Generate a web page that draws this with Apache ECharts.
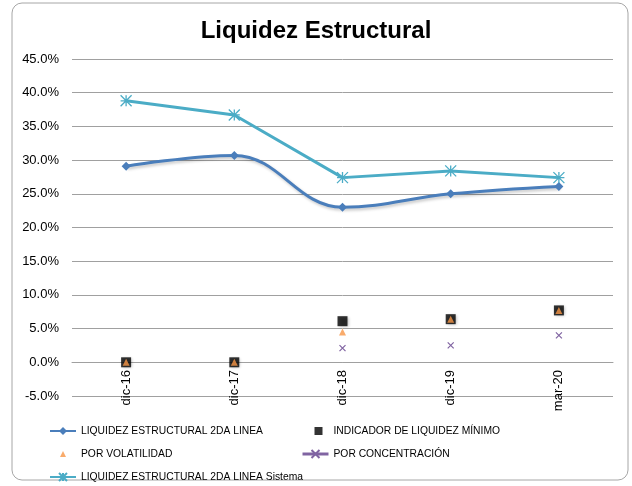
<!DOCTYPE html>
<html>
<head>
<meta charset="utf-8">
<script src="https://cdn.jsdelivr.net/npm/echarts@6/dist/echarts.min.js"></script>
<style>
  html, body { margin: 0; padding: 0; background: #fff; }
  #chart { width: 632px; height: 486px; }
</style>
</head>
<body>
<div id="chart"></div>
<script>
// categorías y valores (en %)
const categories = ['dic-16', 'dic-17', 'dic-18', 'dic-19', 'mar-20'];
const liquidez2da = [29.1, 30.7, 23.0, 25.0, 26.1];
const indicadorMinimo = [0, 0, 6.1, 6.4, 7.7];
const porVolatilidad = [0, 0, 4.5, 6.4, 7.7];
const porConcentracion = [null, null, 2.1, 2.5, 4.0];
const liquidezSistema = [38.8, 36.7, 27.4, 28.4, 27.4];

const FONT = 'Liberation Sans';
const asterisk = 'path://M0,0L10,10M10,0L0,10M5,0L5,10M0,5L10,5';
const xMark = 'path://M0,0L10,10M10,0L0,10';
// iconos de leyenda con caja 26x10 para que no se deformen
const legendTriangle = 'path://M0,0M26,10M10,8L16,8L13,2Z';
const legendSquare = 'path://M0,0M26,10M12,1L20,1L20,9L12,9Z';

const chart = echarts.init(document.getElementById('chart'));

const legendText = { fontFamily: FONT, fontSize: 10.3, color: '#000', lineHeight: 12 };

chart.setOption({
  animation: false,
  title: {
    text: 'Liquidez Estructural',
    left: 'center',
    top: 14,
    textStyle: { fontFamily: FONT, fontSize: 24, fontWeight: 'bold', color: '#000' }
  },
  graphic: [{
    type: 'rect',
    shape: { x: 12, y: 3, width: 616, height: 477, r: 10 },
    style: { fill: 'none', stroke: '#a6a6a6', lineWidth: 1 },
    silent: true
  }],
  grid: { left: 72, right: 19, top: 59, bottom: 90 },
  legend: [{
    orient: 'vertical',
    left: 49,
    top: 425,
    padding: 0,
    itemWidth: 26,
    itemHeight: 10,
    itemGap: 11,
    textStyle: legendText,
    data: [
      'LIQUIDEZ ESTRUCTURAL 2DA LINEA',
      { name: 'POR VOLATILIDAD', icon: legendTriangle },
      'LIQUIDEZ ESTRUCTURAL 2DA LINEA Sistema'
    ]
  }, {
    orient: 'vertical',
    left: 301,
    top: 425,
    padding: 0,
    itemWidth: 26,
    itemHeight: 10,
    itemGap: 11,
    textStyle: legendText,
    data: [
      { name: 'INDICADOR DE LIQUIDEZ MÍNIMO', icon: legendSquare },
      { name: 'POR CONCENTRACIÓN', lineStyle: { width: 3, color: '#8064A2', opacity: 1 } }
    ]
  }],
  xAxis: {
    type: 'category',
    data: categories,
    axisLine: { onZero: true, lineStyle: { color: '#a0a0a0' } },
    axisTick: { show: false },
    axisLabel: { rotate: 90, margin: -26, fontFamily: FONT, fontSize: 13, color: '#000' }
  },
  yAxis: {
    type: 'value',
    min: -5,
    max: 45,
    interval: 5,
    axisLine: { show: false },
    axisTick: { show: false },
    axisLabel: {
      margin: 13,
      fontFamily: FONT,
      fontSize: 13,
      color: '#000',
      formatter: v => v.toFixed(1) + '%'
    },
    splitLine: { lineStyle: { color: '#a0a0a0', width: 1 } }
  },
  series: [{
    name: 'LIQUIDEZ ESTRUCTURAL 2DA LINEA',
    type: 'line',
    smooth: 0.4,
    data: liquidez2da,
    symbol: 'diamond',
    symbolSize: 9,
    itemStyle: { color: '#4A7EBB' },
    lineStyle: { width: 3, color: '#4A7EBB', shadowColor: 'rgba(0,0,0,0.22)', shadowBlur: 3, shadowOffsetX: 1.5, shadowOffsetY: 2 }
  }, {
    name: 'INDICADOR DE LIQUIDEZ MÍNIMO',
    type: 'scatter',
    data: indicadorMinimo,
    symbol: 'rect',
    symbolSize: 10,
    itemStyle: { color: '#000', shadowColor: 'rgba(0,0,0,0.35)', shadowBlur: 3, shadowOffsetX: 1, shadowOffsetY: 1 }
  }, {
    name: 'POR VOLATILIDAD',
    type: 'scatter',
    data: porVolatilidad,
    symbol: 'triangle',
    symbolSize: 7,
    itemStyle: { color: '#F79646' }
  }, {
    name: 'POR CONCENTRACIÓN',
    type: 'line',
    data: porConcentracion,
    symbol: xMark,
    symbolSize: 6,
    showAllSymbol: true,
    itemStyle: { color: '#8064A2', borderColor: '#8064A2', borderWidth: 1.2 },
    lineStyle: { width: 0, opacity: 0 }
  }, {
    name: 'LIQUIDEZ ESTRUCTURAL 2DA LINEA Sistema',
    type: 'line',
    data: liquidezSistema,
    symbol: asterisk,
    symbolSize: 11,
    itemStyle: { color: '#4BACC6', borderColor: '#4BACC6', borderWidth: 1.3 },
    lineStyle: { width: 3, color: '#4BACC6' }
  }]
});
</script>
</body>
</html>
